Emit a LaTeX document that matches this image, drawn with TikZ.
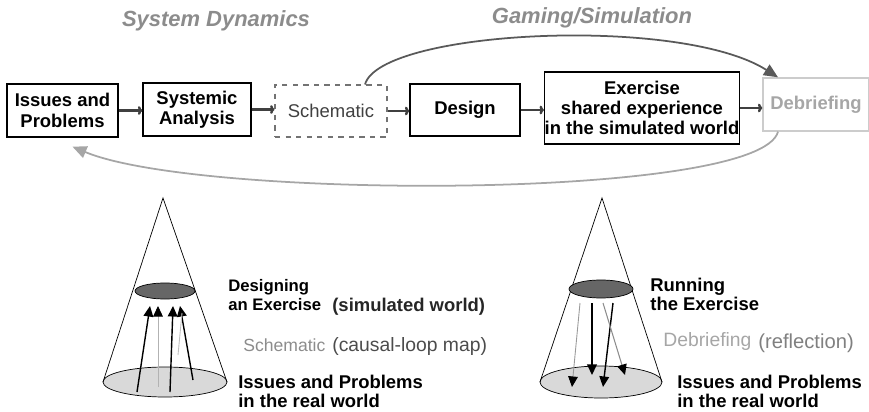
\documentclass[tikz,border=0pt]{standalone}
\usepackage{fontspec}
\setmainfont{Liberation Sans}
\usetikzlibrary{arrows.meta,positioning}

\begin{document}
\begin{tikzpicture}[x=0.02cm,y=-0.02cm,
    box/.style={draw,line width=0.8pt,inner sep=0pt,align=center,
      font=\fontsize{10.5}{11.5}\selectfont\bfseries},
    flow/.style={line width=1.4pt,black!75,-{To[length=2.5pt,width=5pt]}},
    lbl/.style={inner sep=0pt,anchor=west,align=left,
      font=\fontsize{10.5}{10.8}\selectfont\bfseries},
    title/.style={black!45,font=\fontsize{12.5}{14}\selectfont\bfseries\itshape},
    up/.style={line width=0.8pt,-{Triangle[length=6pt,width=5.5pt,color=black]}}]
  \useasboundingbox (0,0) rectangle (869,412);

  \node[title] (sd) at (216,21) {System Dynamics};
  \node[title] (gs) at (592,18) {Gaming/Simulation};

  \node[box,minimum width=2.22cm,minimum height=1.06cm] (issues) at (62.5,110.5) {Issues and\\Problems};
  \node[box,minimum width=2.16cm,minimum height=1.06cm] (analysis) at (197,109.5) {Systemic\\Analysis};
  \node[box,minimum width=2.24cm,minimum height=1.04cm,dashed,draw=black!55,line width=0.6pt,
    text=black!75,font=\fontsize{10.5}{11.5}\selectfont] (schem) at (331,111) {Schematic};
  \node[box,minimum width=2.2cm,minimum height=1.04cm] (design) at (465,110) {Design};
  \node[box,minimum width=3.84cm,minimum height=1.44cm] (exercise) at (642,108)
    {Exercise\\shared experience\\in the simulated world};
  \node[box,minimum width=2.12cm,minimum height=1.06cm,draw=black!20,text=black!35] (debrief) at (816,104.5) {Debriefing};

  \foreach \a/\b in {issues/analysis,analysis/schem,schem/design,design/exercise,exercise/debrief}
    \draw[flow] (\a.east) -- (\a.east -| \b.west);

  \draw[line width=1pt,black!65,-{Triangle[length=8pt,width=7pt]}]
    ([xshift=0.68cm]schem.north) .. controls (380,30) and (680,15) .. ([xshift=-0.76cm]debrief.north);
  \draw[line width=1pt,black!35,-{Triangle[length=8pt,width=7pt]}]
    ([xshift=-0.76cm]debrief.south) .. controls (760,200) and (200,200) .. ([xshift=0.2cm,yshift=-0.18cm]issues.south);

  \begin{scope}[shift={(165,0)}]
    \draw[fill=black!15] (0,382) ellipse [x radius=62,y radius=15];
    \draw (-62,382) -- (-2,198) -- (62,382);
    \draw[fill=black!60] (0,291) ellipse [x radius=30,y radius=8];
    \draw[up] (-28,392) -- (-15,306);
    \draw[up,black!30,line width=0.5pt] (-7,387) -- (-7,306);
    \draw[up] (5,392) -- (8,306);
    \draw[up] (28,380) -- (15,306);
    \draw[black!25,line width=0.5pt] (17,313) -- (13,355);
  \end{scope}

  \begin{scope}[shift={(601,0)}]
    \draw[fill=black!15] (0,382) ellipse [x radius=61,y radius=16];
    \draw (-61,382) -- (1,198) -- (61,382);
    \draw[fill=black!60] (0,289) ellipse [x radius=32,y radius=9];
    \draw[up,black!40,line width=0.5pt] (-21,303) -- (-29,387);
    \draw[up] (-9,303) -- (-9,375);
    \draw[up] (12,303) -- (2,387);
    \draw[up,black!45,line width=0.6pt] (2,303) -- (24,375);
  \end{scope}

  \node[lbl,font=\fontsize{9.5}{11}\selectfont\bfseries] (designing) at (228,295) {Designing\\an Exercise};
  \node[lbl,black!85] (simworld) at (332,307) {(simulated world)};
  \node[lbl,black!45,font=\fontsize{10}{11}\selectfont] (schemlbl) at (243,345) {Schematic};
  \node[lbl,black!70,font=\fontsize{11}{12}\selectfont] (causal) at (332,347) {(causal-loop map)};
  \node[lbl] (issuesl) at (238,391) {Issues and Problems\\in the real world};

  \node[lbl] (running) at (650,294) {Running\\the Exercise};
  \node[lbl,black!35,font=\fontsize{11}{12}\selectfont] (debriefl) at (663,342) {Debriefing};
  \node[lbl,black!50,font=\fontsize{11.5}{12}\selectfont] (reflect) at (758,343) {(reflection)};
  \node[lbl] (issuesr) at (677,391) {Issues and Problems\\in the real world};
\end{tikzpicture}
\end{document}
